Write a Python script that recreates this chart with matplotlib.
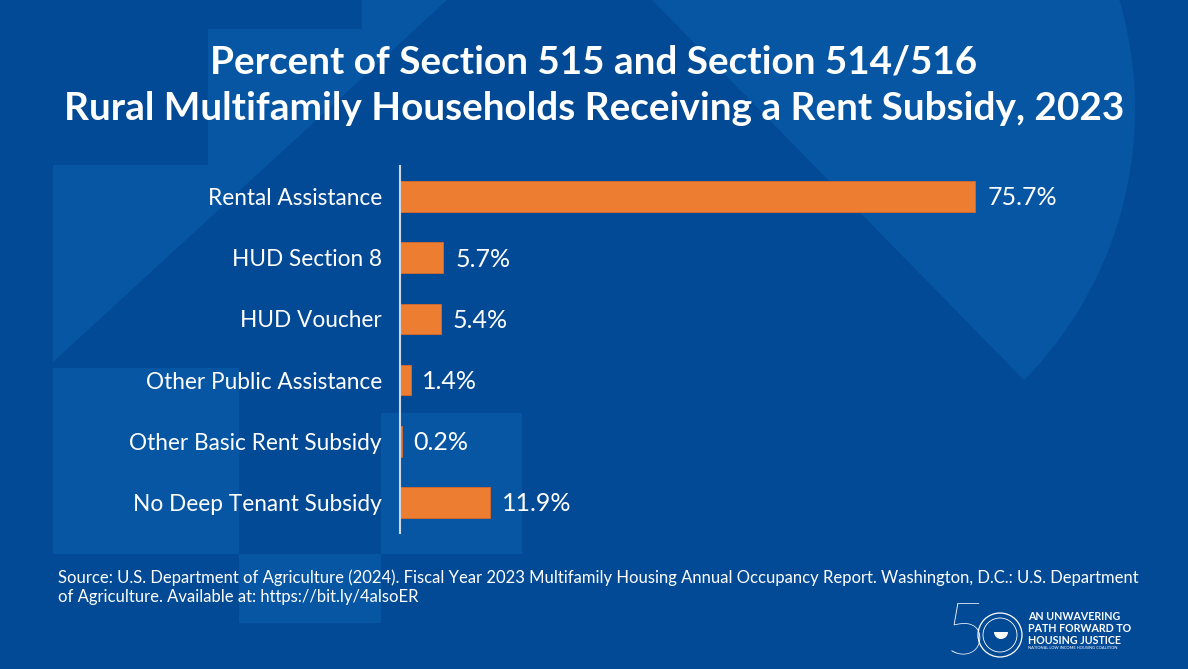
import matplotlib
matplotlib.use("Agg")
import matplotlib.pyplot as plt
from matplotlib.patches import Polygon, Rectangle, Circle, Wedge
import numpy as np

# ---------------- data ----------------
categories = ["Rental Assistance", "HUD Section 8", "HUD Voucher",
              "Other Public Assistance", "Other Basic Rent Subsidy",
              "No Deep Tenant Subsidy"]
values = [75.7, 5.7, 5.4, 1.4, 0.2, 11.9]
value_labels = ["75.7%", "5.7%", "5.4%", "1.4%", "0.2%", "11.9%"]
title_lines = ["Percent of Section 515 and Section 514/516",
               "Rural Multifamily Households Receiving a Rent Subsidy, 2023"]
source_lines = ["Source: U.S. Department of Agriculture (2024). Fiscal Year 2023 Multifamily Housing Annual Occupancy Report. Washington, D.C.: U.S. Department",
                "of Agriculture. Available at: https://bit.ly/4alsoER"]

# ---------------- style ----------------
W, H = 1188, 669
BG = "#034A96"
LIGHT = "#0656A4"
ORANGE = "#ED7D31"
FONT = ["Lato", "DejaVu Sans"]

fig = plt.figure(figsize=(W / 100, H / 100), dpi=100)
fig.patch.set_facecolor(BG)

# background decoration in pixel coordinates
bg = fig.add_axes([0, 0, 1, 1])
bg.set_xlim(0, W)
bg.set_ylim(H, 0)
bg.axis("off")
bg.set_zorder(0)

step_poly = [(53, 165), (208, 165), (208, 29), (362, 29), (362, 0),
             (447, 0), (53, 362)]
bg.add_patch(Polygon(step_poly, closed=True, facecolor=LIGHT, edgecolor="none"))
for (x0, y0, x1, y1) in [(53, 368, 239, 554), (381, 413, 522, 554), (239, 554, 381, 623)]:
    bg.add_patch(Rectangle((x0, y0), x1 - x0, y1 - y0, facecolor=LIGHT, edgecolor="none"))

# teardrop: circle clipped by a line
cx, cy, r = 748, 109, 387
circ = Circle((cx, cy), r, facecolor=LIGHT, edgecolor="none")
clip = Polygon([(652, 0), (1024, 380), (1250, 600), (1250, 0)], closed=True,
               transform=bg.transData)
bg.add_patch(circ)
circ.set_clip_path(clip)

# ---------------- chart ----------------
ax_left, ax_right = 400, 1160
ax_top, ax_bot = 166, 533
ax = fig.add_axes([ax_left / W, 1 - ax_bot / H, (ax_right - ax_left) / W, (ax_bot - ax_top) / H])
ax.set_zorder(2)
ax.patch.set_alpha(0)
y = np.arange(len(categories))
ax.barh(y, values, height=0.5, color=ORANGE, edgecolor="#D8692A", linewidth=0.6)
ax.set_xlim(0, 100)
ax.set_ylim(len(categories) - 0.5, -0.5)
ax.set_yticks(y)
ax.set_yticklabels(categories, fontsize=16.3, color="white", family=FONT)
ax.tick_params(axis="y", length=0, pad=13)
ax.set_xticks([])
for s in ["top", "right", "bottom"]:
    ax.spines[s].set_visible(False)
ax.spines["left"].set_color("#D0D6E0")
ax.spines["left"].set_linewidth(1.5)

for yi, v, lab in zip(y, values, value_labels):
    ax.annotate(lab, (v, yi), xytext=(8.5, -1), textcoords="offset points",
                ha="left", va="center", fontsize=18, color="white", family=FONT)

# ---------------- titles ----------------
fig.text(0.5, 1 - 62 / H, title_lines[0], ha="center", va="center",
         fontsize=27.9, fontweight="bold", color="white", family=FONT)
fig.text(0.5, 1 - 108 / H, title_lines[1], ha="center", va="center",
         fontsize=27.9, fontweight="bold", color="white", family=FONT)

fig.text(58 / W, 1 - 578 / H, source_lines[0], ha="left", va="center",
         fontsize=12.0, color="white", family=FONT)
fig.text(58 / W, 1 - 597 / H, source_lines[1], ha="left", va="center",
         fontsize=12.0, color="white", family=FONT)

# ---------------- logo ----------------
fig.text(945 / W, 1 - 634 / H, "5", ha="left", va="center", fontsize=52,
         fontweight="light", color="white", family=FONT)
bg.add_patch(Circle((1000, 635), 22, facecolor="none", edgecolor="white", linewidth=0.9))
bg.add_patch(Circle((1000, 635), 17, facecolor="none", edgecolor="white", linewidth=0.6))
bg.add_patch(Wedge((1001, 632), 7, 0, 180, facecolor="white", edgecolor="none"))
for i, line in enumerate(["AN UNWAVERING", "PATH FORWARD TO", "HOUSING JUSTICE"]):
    fig.text(1028 / W, 1 - (617 + 12 * i) / H, line, ha="left", va="center",
             fontsize=7.7, fontweight="bold", color="white", family=FONT)
fig.text(1028 / W, 1 - 648 / H, "NATIONAL LOW INCOME HOUSING COALITION", ha="left",
         va="center", fontsize=2.9, color="white", family=FONT)

fig.savefig("out.png", dpi=100, facecolor=BG)
